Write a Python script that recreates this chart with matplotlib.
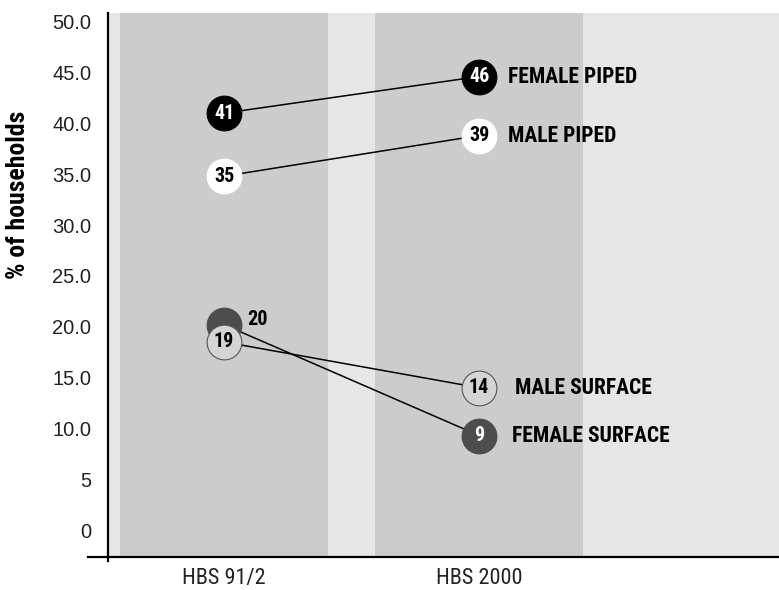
import matplotlib.pyplot as plt
from matplotlib import font_manager as fm
import numpy as np

surveys = ['HBS 91/2', 'HBS 2000']
y_ticks = [0, 5, 10, 15, 20, 25, 30, 35, 40, 45, 50]
y_tick_labels = ['0', '5', '10.0', '15.0', '20.0', '25.0', '30.0', '35.0', '40.0', '45.0', '50.0']

# marker heights as drawn, and the numbers printed in the circles
female_piped = [41, 44.6]
female_piped_text = ['41', '46']
male_piped = [34.8, 38.8]
male_piped_text = ['35', '39']
female_surface = [20.2, 9.3]
female_surface_text = ['20', '9']
male_surface = [18.5, 14]
male_surface_text = ['19', '14']

# pick a condensed sans that has a real bold face
bold_fonts = {f.name for f in fm.fontManager.ttflist
              if isinstance(f.weight, int) and f.weight >= 700 or f.weight == 'bold'}
wanted = ['Arial Narrow', 'Liberation Sans Narrow', 'Roboto Condensed', 'PT Sans Narrow',
          'Sofia Sans Condensed', 'Archivo Narrow', 'Pragati Narrow', 'Barlow Semi Condensed',
          'Encode Sans Condensed', 'IBM Plex Sans Condensed']
narrow = [f for f in wanted if f in bold_fonts][:1] + ['DejaVu Sans']
plt.rcParams['font.family'] = ['Liberation Sans', 'DejaVu Sans']

fig = plt.figure(figsize=(7.79, 5.90), dpi=100)
ax = fig.add_axes([0.1386, 0.0559, 0.8614, 0.9226])
ax.set_facecolor('#e6e6e6')

x = np.arange(len(surveys))
for xi in x:
    ax.axvspan(xi - 0.408, xi + 0.408, color='#cccccc', lw=0, zorder=0)

# (values, texts, face, edge, text colour, name, name offset)
series = [
    (female_piped, female_piped_text, 'black', 'black', 'white', 'FEMALE PIPED', 21),
    (male_piped, male_piped_text, 'white', 'white', 'black', 'MALE PIPED', 21),
    (female_surface, female_surface_text, '#4d4d4d', '#4d4d4d', 'white', 'FEMALE SURFACE', 24),
    (male_surface, male_surface_text, '#d4d4d4', '#555555', 'black', 'MALE SURFACE', 26),
]

for vals, texts, face, edge, tcol, name, off in series:
    ax.plot(x, vals, color='black', lw=1.1, zorder=2)

for vals, texts, face, edge, tcol, name, off in series:
    ax.plot(x, vals, 'o', ms=25, mfc=face, mec=edge, mew=0.8, ls='none', zorder=3)
    for xi, v, t in zip(x, vals, texts):
        if t == '20':
            # hidden behind the 19 circle, so printed beside it
            ax.annotate(t, (xi, v), xytext=(17, 4), textcoords='offset points',
                        ha='left', va='center', fontsize=14.5, fontweight='bold',
                        family=narrow, color='black', zorder=5)
        else:
            ax.annotate(t, (xi, v), ha='center', va='center', fontsize=14.5,
                        fontweight='bold', family=narrow, color=tcol, zorder=5)
    ax.annotate(name, (x[-1], vals[-1]), xytext=(off, 0), textcoords='offset points',
                ha='left', va='center', fontsize=15.5, fontweight='bold',
                family=narrow, color='black', zorder=5)

ax.set_xlim(-0.455, 2.176)
ax.set_ylim(-2.65, 50.88)
ax.set_yticks(y_ticks)
ax.set_yticklabels(y_tick_labels, fontsize=14.5, color='#222222')
ax.set_xticks(x)
ax.set_xticklabels(surveys, fontsize=16, family=narrow, color='#222222')
ax.tick_params(axis='y', length=0, pad=12)
ax.tick_params(axis='x', length=0, pad=8)

for s in ax.spines.values():
    s.set_visible(False)
ax.plot([-0.03, 1], [0, 0], color='black', lw=1.6, transform=ax.transAxes, clip_on=False, zorder=6)
ax.plot([0, 0], [-0.008, 1], color='black', lw=1.6, transform=ax.transAxes, clip_on=False, zorder=6)

fig.text(18 / 779, 1 - 195 / 590, '% of households', rotation=90, ha='center', va='center',
         fontsize=18.5, fontweight='bold', family=narrow)

plt.savefig('out.png', dpi=100)
